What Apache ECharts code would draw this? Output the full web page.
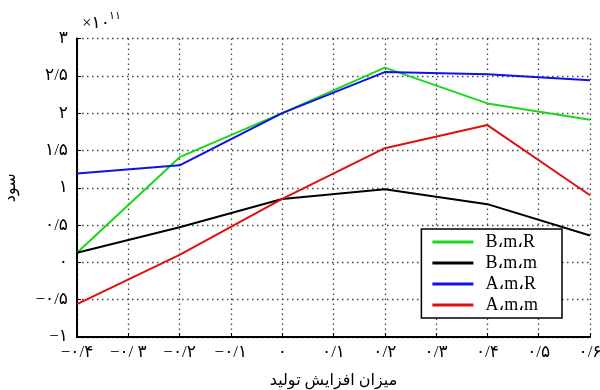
<!DOCTYPE html>
<html><head><meta charset="utf-8">
<script src="https://cdn.jsdelivr.net/npm/echarts@6/dist/echarts.min.js"></script>
<style>html,body{margin:0;padding:0;background:#fff}#c{width:600px;height:390px}</style>
</head><body><div id="c"></div>
<script>
const xValues = [-0.4, -0.2, 0, 0.2, 0.4, 0.6];
const seriesNames = ['B،m،R', 'B،m،m', 'A،m،R', 'A،m،m'];
const bmR = [0.13, 1.41, 2.00, 2.61, 2.13, 1.91];
const bmm = [0.13, 0.47, 0.85, 0.98, 0.78, 0.36];
const amR = [1.19, 1.30, 2.00, 2.55, 2.52, 2.44];
const amm = [-0.56, 0.10, 0.85, 1.53, 1.84, 0.90];
const xTicks = [-0.4, -0.3, -0.2, -0.1, 0, 0.1, 0.2, 0.3, 0.4, 0.5, 0.6];
const xTickLabels = ['−۰/۴', '−۰/ ۳', '−۰/۲', '−۰/۱', '۰', '۰/۱', '۰/۲', '۰/۳', '۰/۴', '۰/۵', '۰/۶'];
const yTicks = [-1, -0.5, 0, 0.5, 1, 1.5, 2, 2.5, 3];
const yTickLabels = ['−۱', '−۰/۵', '۰', '۰/۵', '۱', '۱/۵', '۲', '۲/۵', '۳'];
const scaleBase = '×۱۰';
const scaleExp = '۱۱';
const colors = ['#18d818', '#000000', '#1010e8', '#dd1010'];

function pairs(ys) { return xValues.map((x, i) => [x, ys[i]]); }
function lookup(v, ticks, labels) {
  for (let i = 0; i < ticks.length; i++) if (Math.abs(ticks[i] - v) < 1e-6) return labels[i];
  return '';
}
const font = '"Liberation Serif", "DejaVu Sans", serif';
const chart = echarts.init(document.getElementById('c'));
const dataSets = [bmR, bmm, amR, amm];
chart.setOption({
  animation: false,
  backgroundColor: '#fff',
  grid: { left: 77, right: 10, top: 38.5, bottom: 53, containLabel: false, outerBoundsMode: 'none' },
  xAxis: {
    type: 'value', min: -0.4, max: 0.6, interval: 0.1,
    name: 'میزان افزایش تولید', nameLocation: 'middle', nameGap: 36,
    nameTextStyle: { fontFamily: font, fontSize: 16, color: '#000' },
    axisLine: { show: true, onZero: false, lineStyle: { color: '#000', width: 2 } },
    axisTick: { show: true, inside: true, length: 4, lineStyle: { color: '#000' } },
    axisLabel: { margin: 7, fontFamily: font, fontSize: 17, color: '#000',
      formatter: v => lookup(v, xTicks, xTickLabels) },
    splitLine: { show: true, lineStyle: { color: '#444', type: [1.5, 3.5], width: 1.3 } }
  },
  yAxis: {
    type: 'value', min: -1, max: 3, interval: 0.5,
    name: 'سود', nameLocation: 'middle', nameGap: 58,
    nameTextStyle: { fontFamily: font, fontSize: 16, color: '#000' },
    axisLine: { show: true, onZero: false, lineStyle: { color: '#000', width: 2 } },
    axisTick: { show: true, inside: true, length: 4, lineStyle: { color: '#000' } },
    axisLabel: { margin: 9, fontFamily: font, fontSize: 17, color: '#000',
      formatter: v => lookup(v, yTicks, yTickLabels) },
    splitLine: { show: true, lineStyle: { color: '#444', type: [1.5, 3.5], width: 1.3 } }
  },
  legend: {
    orient: 'vertical', right: 38, top: 229,
    backgroundColor: '#fff', borderColor: '#000', borderWidth: 1.5, borderRadius: 0,
    padding: [4, 24, 4, 11], itemGap: 3,
    itemWidth: 41, itemHeight: 3, icon: 'rect',
    textStyle: { fontFamily: font, fontSize: 18, color: '#000', padding: [0, 0, 0, 7] },
    data: seriesNames
  },
  title: [
    { text: scaleBase, left: 82, top: 15, padding: 0,
      textStyle: { fontFamily: font, fontSize: 17, fontWeight: 'normal', color: '#000' } },
    { text: scaleExp, left: 109, top: 11, padding: 0,
      textStyle: { fontFamily: font, fontSize: 11, fontWeight: 'normal', color: '#000' } }
  ],
  series: dataSets.map((d, i) => ({
    name: seriesNames[i], type: 'line', data: pairs(d),
    showSymbol: false, symbol: 'none',
    lineStyle: { color: colors[i], width: 2 }, itemStyle: { color: colors[i] }
  }))
});
</script></body></html>
